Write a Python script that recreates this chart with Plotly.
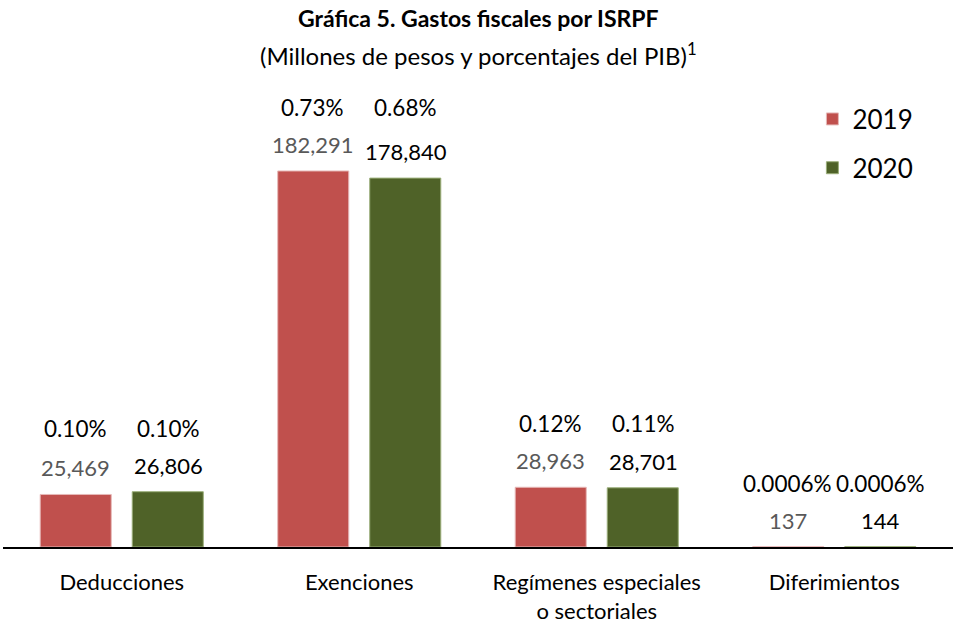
import plotly.graph_objects as go

categories = ["Deducciones", "Exenciones", "Regímenes especiales<br>o sectoriales", "Diferimientos"]
values_2019 = [25469, 182291, 28963, 137]
values_2020 = [26806, 178840, 28701, 144]
pct_2019 = ["0.10%", "0.73%", "0.12%", "0.0006%"]
pct_2020 = ["0.10%", "0.68%", "0.11%", "0.0006%"]
series_names = ["2019", "2020"]

FONT = "Lato, Carlito, Calibri, sans-serif"
RED = "#C0504D"
GREEN = "#4F6228"

fig = go.Figure()
fig.add_trace(go.Bar(x=categories, y=values_2019, name=series_names[0],
                     marker=dict(color=RED, line=dict(color="#E6B9B8", width=1)),
                     legendgroup="a"))
fig.add_trace(go.Bar(x=categories, y=values_2020, name=series_names[1],
                     marker=dict(color=GREEN, line=dict(color="#9BAF7A", width=1)),
                     legendgroup="b"))

annotations = []
for i, cat in enumerate(categories):
    for j, (vals, pcts, col) in enumerate([(values_2019, pct_2019, "#595959"),
                                            (values_2020, pct_2020, "#000000")]):
        xs = -0.195 if j == 0 else 0.195
        annotations.append(dict(x=i + xs, y=vals[i], xref="x", yref="y",
                                text=f"{vals[i]:,}", showarrow=False,
                                yanchor="bottom", yshift=11,
                                font=dict(family=FONT, size=22, color=col)))
        top = max(values_2019[i], values_2020[i])
        annotations.append(dict(x=i + xs, y=top, xref="x", yref="y",
                                text=pcts[i], showarrow=False,
                                yanchor="bottom", yshift=48,
                                font=dict(family=FONT, size=22.5, color="#000000")))

annotations.append(dict(x=0.5, y=1, xref="paper", yref="paper", yanchor="top",
                        text="<b>Gráfica 5. Gastos fiscales por ISRPF</b>",
                        showarrow=False, yshift=98,
                        font=dict(family=FONT, size=23, color="#000000")))
annotations.append(dict(x=0.5, y=1, xref="paper", yref="paper", yanchor="top",
                        text="(Millones de pesos y porcentajes del PIB)<sup>1</sup>",
                        showarrow=False, yshift=64,
                        font=dict(family=FONT, size=24, color="#000000")))

fig.update_layout(
    width=953, height=629,
    margin=dict(l=3, r=0, t=100, b=82),
    paper_bgcolor="white", plot_bgcolor="white",
    barmode="group", bargap=0.225, bargroupgap=0.228,
    font=dict(family=FONT, size=22, color="#000000"),
    annotations=annotations,
    legend=dict(x=0.852, y=1.01, xanchor="left", yanchor="top",
                font=dict(family=FONT, size=26, color="#000000"),
                tracegroupgap=12, bgcolor="rgba(0,0,0,0)"),
    xaxis=dict(showline=True, linecolor="#000000", linewidth=2,
               ticks="", tickfont=dict(family=FONT, size=22, color="#000000"),
               ticklabelstandoff=15, range=[-0.5, 3.5]),
    yaxis=dict(visible=False, range=[0, 216700], showgrid=False),
)

fig.write_html("out.html", config={"displayModeBar": False},
               post_script="document.body.style.margin='0';document.body.style.overflow='hidden';")
